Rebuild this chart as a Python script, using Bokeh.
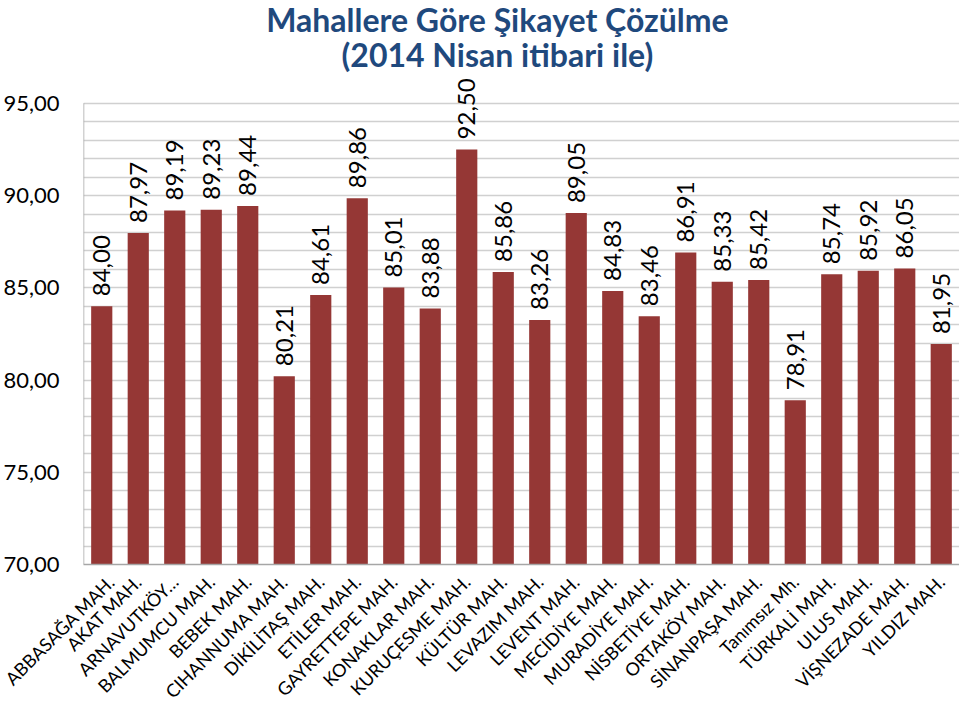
import math
from bokeh.plotting import figure
from bokeh.models import FactorRange, Range1d, FixedTicker, CustomJSTickFormatter, Label, ColumnDataSource
from bokeh.core.properties import value
from bokeh.embed import file_html
from bokeh.resources import INLINE

categories = ["ABBASAĞA MAH.", "AKAT MAH.", "ARNAVUTKÖY…", "BALMUMCU MAH.", "BEBEK MAH.",
              "CIHANNUMA MAH.", "DİKİLİTAŞ MAH.", "ETİLER MAH.", "GAYRETTEPE MAH.", "KONAKLAR MAH.",
              "KURUÇESME MAH.", "KÜLTÜR MAH.", "LEVAZIM MAH.", "LEVENT MAH.", "MECİDİYE MAH.",
              "MURADİYE MAH.", "NİSBETİYE MAH.", "ORTAKÖY MAH.", "SİNANPAŞA MAH.", "Tanımsız Mh.",
              "TÜRKALİ MAH.", "ULUS MAH.", "VİŞNEZADE MAH.", "YILDIZ MAH."]
values = [84.00, 87.97, 89.19, 89.23, 89.44, 80.21, 84.61, 89.86, 85.01, 83.88,
          92.50, 85.86, 83.26, 89.05, 84.83, 83.46, 86.91, 85.33, 85.42, 78.91,
          85.74, 85.92, 86.05, 81.95]
value_labels = [f"{v:.2f}".replace(".", ",") for v in values]
y_ticks = [70, 75, 80, 85, 90, 95]
y_minor = [v for v in range(70, 96) if v % 5 != 0]
y_min, y_max = 70, 95
title_line1 = "Mahallere Göre Şikayet Çözülme"
title_line2 = "(2014 Nisan itibari ile)"

FONT = "Lato"
W, H = 959, 713
FRAME_BOTTOM_GUESS = 565      # canvas y of the 70 line (depends on x-axis panel)
TOP_OF_95 = 103               # canvas y of the 95 line
unit = (FRAME_BOTTOM_GUESS - TOP_OF_95) / (y_max - y_min)

src = ColumnDataSource(dict(cat=categories, val=values, lab=value_labels))

p = figure(width=W, height=H, output_backend="svg", toolbar_location=None,
           x_range=FactorRange(factors=categories, range_padding=0),
           y_range=Range1d(y_min, y_max + TOP_OF_95 / unit),
           min_border_left=83, min_border_right=0, min_border_top=0, min_border_bottom=0)
p.outline_line_color = None
p.background_fill_color = "white"

# grid
p.xgrid.grid_line_color = None
p.ygrid.ticker = FixedTicker(ticks=y_ticks, minor_ticks=y_minor)
p.ygrid.grid_line_color = "#D0D0D0"
p.ygrid.minor_grid_line_color = "#D0D0D0"
p.ygrid.grid_line_width = 1.5
p.ygrid.minor_grid_line_width = 1.5

# left axis line only up to the top tick
p.segment(x0=[0], y0=[y_min], x1=[0], y1=[y_max], line_color="#A6A6A6", line_width=1.5)

p.vbar(x="cat", top="val", bottom=y_min, width=0.58, source=src,
       fill_color="#953735", line_color=None)
p.text(x="cat", y="val", text="lab", source=src, angle=math.pi/2,
       text_align="left", text_baseline="middle", y_offset=-10,
       text_font_size="24px", text_color="#000000", text_font=value(FONT))

xax = p.xaxis[0]
xax.major_label_orientation = math.pi/4
xax.major_label_text_font = FONT
xax.major_label_text_font_size = "18px"
xax.major_label_text_color = "#000000"
xax.major_tick_line_color = None
xax.major_tick_out = 0
xax.major_tick_in = 0
xax.major_label_standoff = 14
xax.axis_line_color = "#A6A6A6"
xax.axis_line_width = 1.5

yax = p.yaxis[0]
yax.ticker = FixedTicker(ticks=y_ticks)
yax.formatter = CustomJSTickFormatter(code="return tick.toFixed(2).replace('.', ',');")
yax.major_label_text_font = FONT
yax.major_label_text_font_size = "22px"
yax.major_label_text_color = "#000000"
yax.major_tick_line_color = None
yax.major_tick_out = 0
yax.major_tick_in = 0
yax.minor_tick_line_color = None
yax.minor_tick_out = 0
yax.major_label_standoff = 24
yax.axis_line_color = None

tx = 11.34
for txt, cy in [(title_line1, 19), (title_line2, 54)]:
    p.add_layout(Label(x=tx, y=y_max + (TOP_OF_95 - cy) / unit, text=txt,
                       text_align="center", text_baseline="middle",
                       text_font=FONT, text_font_size="32px", text_font_style="bold",
                       text_color="#1F497D"))

open("out.html", "w").write(file_html(p, INLINE))
